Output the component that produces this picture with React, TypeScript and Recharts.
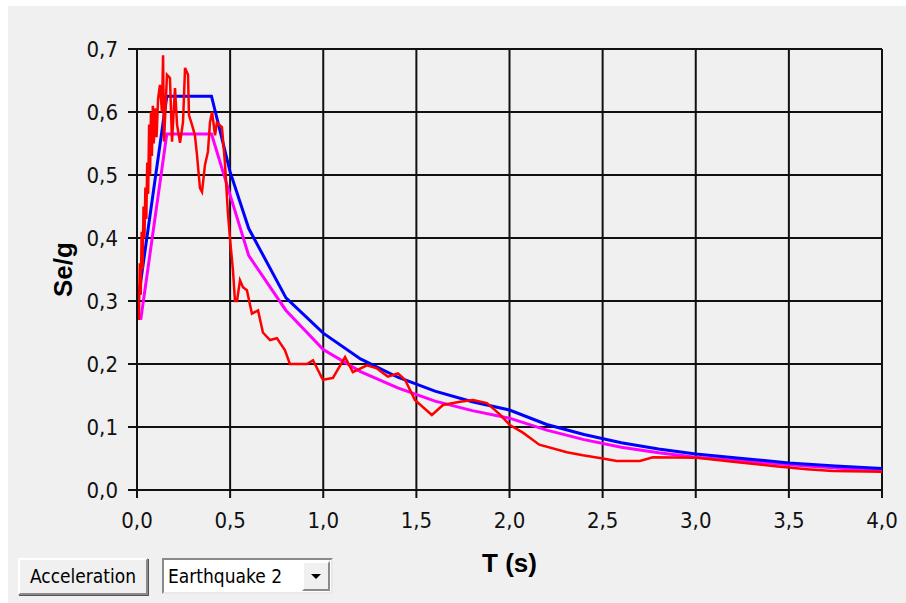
import React from 'react';
import {CartesianGrid, Label, Line, LineChart, XAxis, YAxis} from 'recharts';

// axis ticks
const periodTicks = [0, 0.5, 1, 1.5, 2, 2.5, 3, 3.5, 4];
const accelTicks = [0, 0.1, 0.2, 0.3, 0.4, 0.5, 0.6, 0.7];

// elastic design spectrum (blue)
const designT = [0.01, 0.16, 0.4, 0.5, 0.6, 0.8, 1.0, 1.2, 1.4, 1.6, 1.8, 2.0, 2.2, 2.4, 2.6, 2.8, 3.0, 3.25, 3.5, 3.75, 4.0];
const designSe = [0.31, 0.625, 0.625, 0.505, 0.415, 0.305, 0.249, 0.208, 0.179, 0.157, 0.14, 0.127, 0.104, 0.088, 0.075, 0.065, 0.057, 0.05, 0.043, 0.038, 0.034];

// spectrum of the scaled record (magenta)
const meanT = [0.02, 0.16, 0.4, 0.5, 0.6, 0.8, 1.0, 1.2, 1.4, 1.6, 1.8, 2.0, 2.2, 2.4, 2.6, 2.8, 3.0, 3.25, 3.5, 3.75, 4.0];
const meanSe = [0.27, 0.565, 0.565, 0.468, 0.372, 0.285, 0.223, 0.188, 0.162, 0.141, 0.126, 0.114, 0.095, 0.08, 0.068, 0.059, 0.052, 0.046, 0.04, 0.035, 0.03];

// earthquake 2 record (red)
const recordT = [
    0.01, 0.015, 0.02, 0.025, 0.03, 0.035, 0.04, 0.045, 0.05, 0.055, 0.06, 0.065, 0.07, 0.075, 0.08,
    0.085, 0.09, 0.097, 0.105, 0.113, 0.123, 0.134, 0.14, 0.145, 0.161, 0.177, 0.188,
    0.204, 0.215, 0.231, 0.247, 0.258, 0.274, 0.279, 0.295, 0.311, 0.322, 0.338, 0.349, 0.365, 0.381,
    0.392, 0.403, 0.419, 0.429, 0.456, 0.472, 0.488, 0.499, 0.515, 0.526, 0.537, 0.553, 0.569, 0.59,
    0.617, 0.65, 0.676, 0.714, 0.751, 0.794, 0.821, 0.913, 0.945, 0.998, 1.052, 1.117, 1.159, 1.235,
    1.288, 1.347, 1.401, 1.439, 1.492, 1.583, 1.643, 1.734, 1.804, 1.879, 1.948, 2.002, 2.072, 2.16,
    2.308, 2.394, 2.501, 2.576, 2.7, 2.77, 3.006, 3.199, 3.414, 3.596, 3.736, 4.0,
];
const recordSe = [
    0.27, 0.36, 0.31, 0.41, 0.35, 0.45, 0.4, 0.48, 0.43, 0.52, 0.47, 0.58, 0.5, 0.6, 0.53,
    0.61, 0.55, 0.606, 0.56, 0.62, 0.643, 0.6, 0.69, 0.553, 0.659, 0.654, 0.553,
    0.638, 0.58, 0.551, 0.584, 0.67, 0.659, 0.595, 0.58, 0.563, 0.532, 0.479, 0.473, 0.516, 0.537,
    0.584, 0.6, 0.563, 0.583, 0.576, 0.52, 0.44, 0.4, 0.35, 0.3, 0.3, 0.333, 0.322, 0.317,
    0.28, 0.285, 0.25, 0.238, 0.241, 0.222, 0.2, 0.2, 0.206, 0.175, 0.178, 0.211, 0.187, 0.198,
    0.193, 0.18, 0.185, 0.175, 0.143, 0.119, 0.135, 0.14, 0.143, 0.138, 0.12, 0.103, 0.091, 0.072,
    0.06, 0.055, 0.05, 0.046, 0.046, 0.052, 0.051, 0.045, 0.038, 0.033, 0.03, 0.029,
];

const toPoints = (t: number[], v: number[]) => t.map((x, i) => ({t: x, v: v[i]}));

const tickFont = '"DejaVu Sans Condensed", "DejaVu Sans", sans-serif';
const titleFont = '"Liberation Sans", Arial, sans-serif';
const comma = (n: number) => n.toFixed(1).replace('.', ',');

const Buttons: React.FC = () => (
    <>
        <div style={{
            position: 'absolute', left: 10, top: 552, width: 126, height: 33,
            background: '#f0f0f0', borderStyle: 'solid', borderWidth: 2,
            borderColor: '#fff #8a8a8a #8a8a8a #fff', boxShadow: '1px 1px 0 #555',
            font: `19px ${tickFont}`, color: '#000', textAlign: 'center', lineHeight: '33px',
        }}>Acceleration</div>
        <div style={{
            position: 'absolute', left: 154, top: 552, width: 167, height: 32,
            background: '#fff', borderStyle: 'solid', borderWidth: 2,
            borderColor: '#8a8a8a #e8e8e8 #e8e8e8 #8a8a8a',
            font: `19px ${tickFont}`, color: '#000', lineHeight: '32px',
        }}>
            <span style={{paddingLeft: 4}}>Earthquake 2</span>
            <div style={{
                position: 'absolute', right: 1, top: 1, width: 24, height: 26,
                background: '#f0f0f0', borderStyle: 'solid', borderWidth: 2,
                borderColor: '#fff #8a8a8a #8a8a8a #fff',
            }}>
                <div style={{
                    position: 'absolute', left: 7, top: 11, width: 0, height: 0,
                    borderLeft: '5px solid transparent', borderRight: '5px solid transparent',
                    borderTop: '5px solid #000',
                }}/>
            </div>
        </div>
    </>
);

export default function App() {
    return (
        <div style={{position: 'absolute', left: 8, top: 6, width: 898, height: 597, background: '#f0f0f0'}}>
            <LineChart width={898} height={574} margin={{top: 43, right: 24, bottom: 0, left: 0}}>
                <CartesianGrid stroke="#111" strokeWidth={2}/>
                <XAxis
                    type="number"
                    dataKey="t"
                    domain={[0, 4]}
                    ticks={periodTicks}
                    tickFormatter={comma}
                    height={90}
                    stroke="#111"
                    strokeWidth={2}
                    tickSize={8}
                    tickMargin={14}
                    tick={{fill: '#111', fontSize: 22, fontFamily: tickFont}}
                    allowDuplicatedCategory={false}
                >
                    <Label value="T (s)" position="center" dy={28}
                           style={{fontFamily: titleFont, fontSize: 26, fontWeight: 'bold', fill: '#000'}}/>
                </XAxis>
                <YAxis
                    type="number"
                    domain={[0, 0.7]}
                    ticks={accelTicks}
                    tickFormatter={comma}
                    width={129}
                    stroke="#111"
                    strokeWidth={2}
                    tickSize={9}
                    tickMargin={10}
                    tick={{fill: '#111', fontSize: 22, fontFamily: tickFont}}
                >
                    <Label value="Se/g" angle={-90} position="center" dx={-10}
                           style={{fontFamily: titleFont, fontSize: 26, fontWeight: 'bold', fill: '#000'}}/>
                </YAxis>
                <Line data={toPoints(meanT, meanSe)} dataKey="v" type="linear" stroke="#ff00ff"
                      strokeWidth={3} dot={false} isAnimationActive={false}/>
                <Line data={toPoints(designT, designSe)} dataKey="v" type="linear" stroke="#0000ff"
                      strokeWidth={3} dot={false} isAnimationActive={false}/>
                <Line data={toPoints(recordT, recordSe)} dataKey="v" type="linear" stroke="#ff0000"
                      strokeWidth={2.5} dot={false} isAnimationActive={false}/>
            </LineChart>
            <Buttons/>
        </div>
    );
}
